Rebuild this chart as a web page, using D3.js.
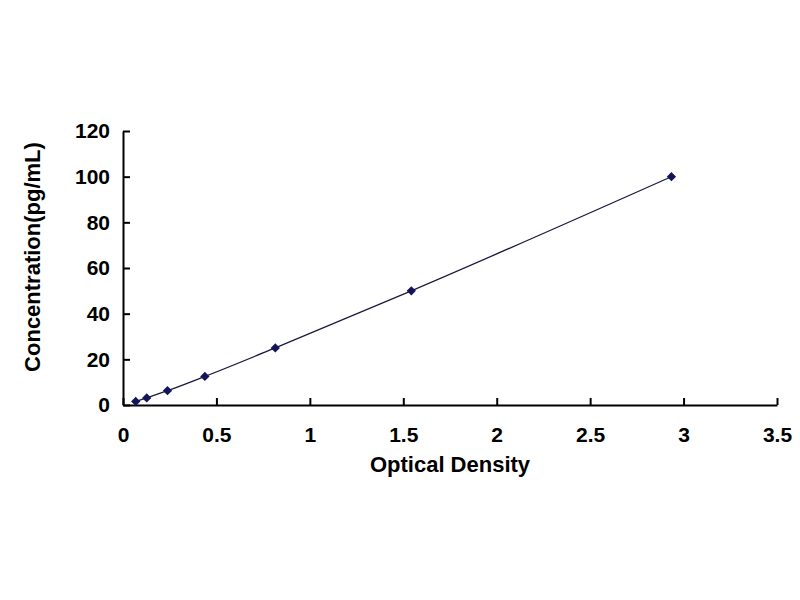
<!DOCTYPE html>
<html>
<head>
<meta charset="utf-8">
<script src="https://cdn.jsdelivr.net/npm/d3@7"></script>
<style>
  body { margin: 0; background: #fff; }
  text { font-family: "Liberation Sans", Arial, sans-serif; font-weight: bold; fill: #000; }
</style>
</head>
<body>
<svg id="chart" width="800" height="600"></svg>
<script>
// Standard curve readings
const opticalDensity = [0.068, 0.127, 0.238, 0.438, 0.815, 1.543, 2.935]
const concentration = [1.56, 3.12, 6.25, 12.5, 25, 50, 100]
const xTicks = [0, 0.5, 1, 1.5, 2, 2.5, 3, 3.5]
const yTicks = [0, 20, 40, 60, 80, 100, 120]

const svg = d3.select("#chart")

const x = d3.scaleLinear().domain([0, 3.5]).range([123, 777])
const y = d3.scaleLinear().domain([0, 120]).range([405, 131])

// x axis, ticks pointing up into the plot
const xAxis = svg.append("g")
  .attr("transform", `translate(0,${y(0)})`)
  .call(d3.axisTop(x).tickValues(xTicks).tickSize(7).tickSizeOuter(0).tickFormat(d3.format("")))
xAxis.select(".domain").attr("stroke", "#000").attr("stroke-width", 2)
xAxis.selectAll(".tick line").attr("stroke", "#000").attr("stroke-width", 2)
xAxis.selectAll(".tick text")
  .attr("y", 37)
  .attr("font-size", 21)
  .attr("font-family", null)

// y axis, ticks pointing right
const yAxis = svg.append("g")
  .attr("transform", `translate(${x(0)},0)`)
  .call(d3.axisRight(y).tickValues(yTicks).tickSize(7).tickSizeOuter(0))
yAxis.select(".domain").attr("stroke", "#000").attr("stroke-width", 2)
yAxis.selectAll(".tick line").attr("stroke", "#000").attr("stroke-width", 2)
yAxis.selectAll(".tick text")
  .attr("x", -13)
  .attr("text-anchor", "end")
  .attr("font-size", 21)
  .attr("font-family", null)

const pts = opticalDensity.map((d, i) => [d, concentration[i]])

svg.append("path")
  .datum(pts)
  .attr("fill", "none")
  .attr("stroke", "#1a1a40")
  .attr("stroke-width", 1.3)
  .attr("d", d3.line().x(d => x(d[0])).y(d => y(d[1])).curve(d3.curveMonotoneX))

svg.append("g").selectAll("path")
  .data(pts)
  .join("path")
  .attr("transform", d => `translate(${x(d[0])},${y(d[1])})`)
  .attr("d", d3.symbol(d3.symbolDiamond2, 55))
  .attr("fill", "#14145a")

svg.append("text")
  .attr("x", 450).attr("y", 472)
  .attr("text-anchor", "middle")
  .attr("font-size", 22)
  .text("Optical Density")

svg.append("text")
  .attr("transform", "translate(40,257) rotate(-90)")
  .attr("text-anchor", "middle")
  .attr("font-size", 22)
  .text("Concentration(pg/mL)")
</script>
</body>
</html>
